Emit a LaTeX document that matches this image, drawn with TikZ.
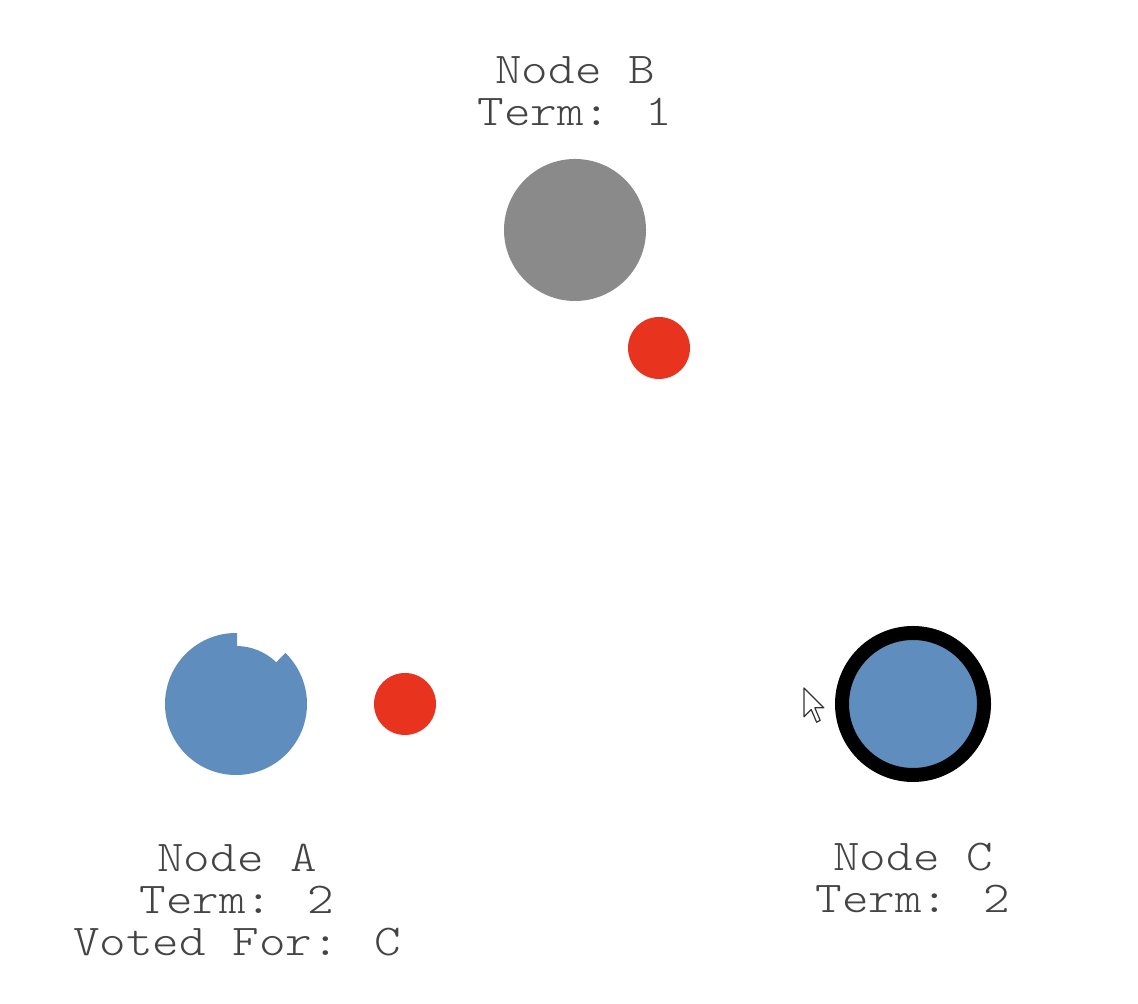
\documentclass[tikz,border=0pt]{standalone}
\usepackage{fontspec}
\newfontfamily\statusfont[FakeStretch=1.15]{lmmonolt10-regular.otf}
\usetikzlibrary{positioning,calc}

\definecolor{followerblue}{HTML}{5F8DBD}
\definecolor{candidategray}{HTML}{8A8A8A}
\definecolor{votered}{HTML}{E8331F}
\definecolor{labelgray}{HTML}{444444}

\begin{document}
\begin{tikzpicture}[x=0.5pt,y=0.5pt,
    server/.style={circle,inner sep=0pt,minimum size=71pt},
    vote/.style={circle,inner sep=0pt,minimum size=31pt,fill=votered},
    status/.style={align=center,inner sep=0pt,text=labelgray,
        font=\statusfont\fontsize{22pt}{21.2pt}\selectfont},
    pointer/.style={fill=white,draw=black!80,line width=0.6pt,line join=round}]
    \useasboundingbox[fill=white] (0,0) rectangle (1138,1004);
    % servers
    \node[server,fill=candidategray] (nodeB) at (575,774) {};
    \coordinate (nodeA) at (236,300);
    \node[server,fill=followerblue,draw=black,line width=7pt] (nodeC) at (913,300) {};
    % node A with its timer cut out
    \fill[followerblue] (nodeA) ++(89:71) arc[start angle=89,end angle=406,radius=71]
        -- ($(nodeA)+(46:58)$) arc[start angle=46,end angle=89,radius=58] -- cycle;
    % votes in flight
    \node[vote] (voteB) at (659,656) {};
    \node[vote] (voteA) at (405,300) {};
    % labels
    \node[status] (labelB) at (575,913) {Node B\\Term: 1};
    \node[status] (labelA) at (237,104) {Node A\\Term: 2\\Voted For: C};
    \node[status] (labelC) at (913,126) {Node C\\Term: 2};
    % mouse pointer
    \coordinate (cursor) at (804,316);
    \draw[pointer,shift={(cursor)},scale=1.8] (0,0) -- (0,-16) -- (4,-12) -- (7,-19)
        -- (9,-18) -- (6,-11) -- (11,-11) -- cycle;
\end{tikzpicture}
\end{document}
